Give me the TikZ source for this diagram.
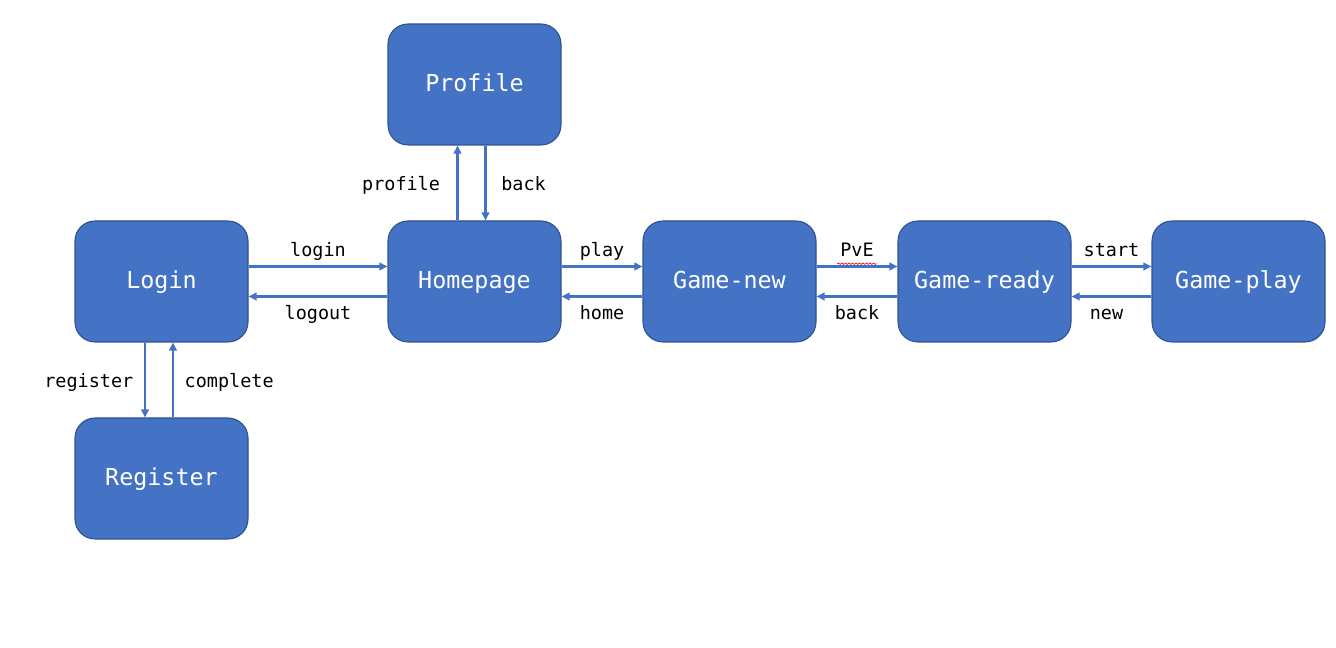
\documentclass[tikz,border=0pt]{standalone}
\usepackage{fontspec}
\setmonofont{DejaVu Sans Mono}
\usepackage{xcolor}
\usepackage{tikz}
\usetikzlibrary{arrows.meta,calc,positioning,decorations.pathmorphing}
\definecolor{boxblue}{HTML}{4472C4}
\definecolor{boxedge}{HTML}{2F528F}

\begin{document}
\begin{tikzpicture}[on grid,
    page/.style={draw=boxedge,line width=0.6pt,fill=boxblue,rounded corners=0.4cm,
        minimum width=3.46cm,minimum height=2.42cm,text=white,text height=2.2ex,text depth=0.3ex,
        font=\fontsize{13.3}{15}\selectfont\ttfamily},
    link/.style={draw=boxblue,line width=1.3pt,-{Triangle[length=0.16cm,width=0.15cm]}},
    lbl/.style={font=\fontsize{10.5}{12}\selectfont\ttfamily,text=black,text height=1.6ex,text depth=0.2ex}]
    \useasboundingbox(0,0)rectangle(26.72cm,12.96cm);
    % pages
    \node[page](login) at (3.23cm,7.33cm){Login};
    \node[page,right=6.26cm of login](home){Homepage};
    \node[page,above=3.94cm of home](profile){Profile};
    \node[page,below=3.94cm of login](register){Register};
    \node[page,right=5.1cm of home](gnew){Game-new};
    \node[page,right=5.1cm of gnew](gready){Game-ready};
    \node[page,right=5.08cm of gready](gplay){Game-play};
    % forward / backward links
    \draw[link]([yshift=0.3cm]login.east)--([yshift=0.3cm]home.west)node[lbl,midway,above=1pt]{login};
    \draw[link]([yshift=-0.3cm]home.west)--([yshift=-0.3cm]login.east)node[lbl,midway,below=2pt]{logout};
    \draw[link]([yshift=0.3cm]home.east)--([yshift=0.3cm]gnew.west)node[lbl,midway,above=1pt]{play};
    \draw[link]([yshift=-0.3cm]gnew.west)--([yshift=-0.3cm]home.east)node[lbl,midway,below=2pt]{home};
    \draw[link]([yshift=0.3cm]gnew.east)--([yshift=0.3cm]gready.west)node[lbl,midway,above=1pt](pve){PvE};
    \draw[link]([yshift=-0.3cm]gready.west)--([yshift=-0.3cm]gnew.east)node[lbl,midway,below=2pt]{back};
    \draw[link]([yshift=0.3cm]gready.east)--([yshift=0.3cm]gplay.west)node[lbl,midway,above=1pt]{start};
    \draw[link]([yshift=-0.3cm]gplay.west)--([yshift=-0.3cm]gready.east)node[lbl,midway,below=2pt,xshift=-0.1cm]{new};
    \draw[link]([xshift=-0.34cm]home.north)--([xshift=-0.34cm]profile.south)node[lbl,midway,left=6pt,yshift=-1pt]{profile};
    \draw[link]([xshift=0.22cm]profile.south)--([xshift=0.22cm]home.north)node[lbl,midway,right=5pt,yshift=-1pt]{back};
    \draw[link]([xshift=-0.33cm]login.south)--([xshift=-0.33cm]register.north)node[lbl,midway,left=2.7pt,yshift=-1pt]{register};
    \draw[link]([xshift=0.23cm]register.north)--([xshift=0.23cm]login.south)node[lbl,midway,right=2.7pt,yshift=-1pt]{complete};
    % spell check mark under PvE
    \draw[red,line width=0.4pt,decorate,decoration={snake,amplitude=0.35pt,segment length=2pt}]
        ($(pve.south west)+(0.08cm,0.02cm)$)--($(pve.south east)+(-0.08cm,0.02cm)$);
\end{tikzpicture}
\end{document}
